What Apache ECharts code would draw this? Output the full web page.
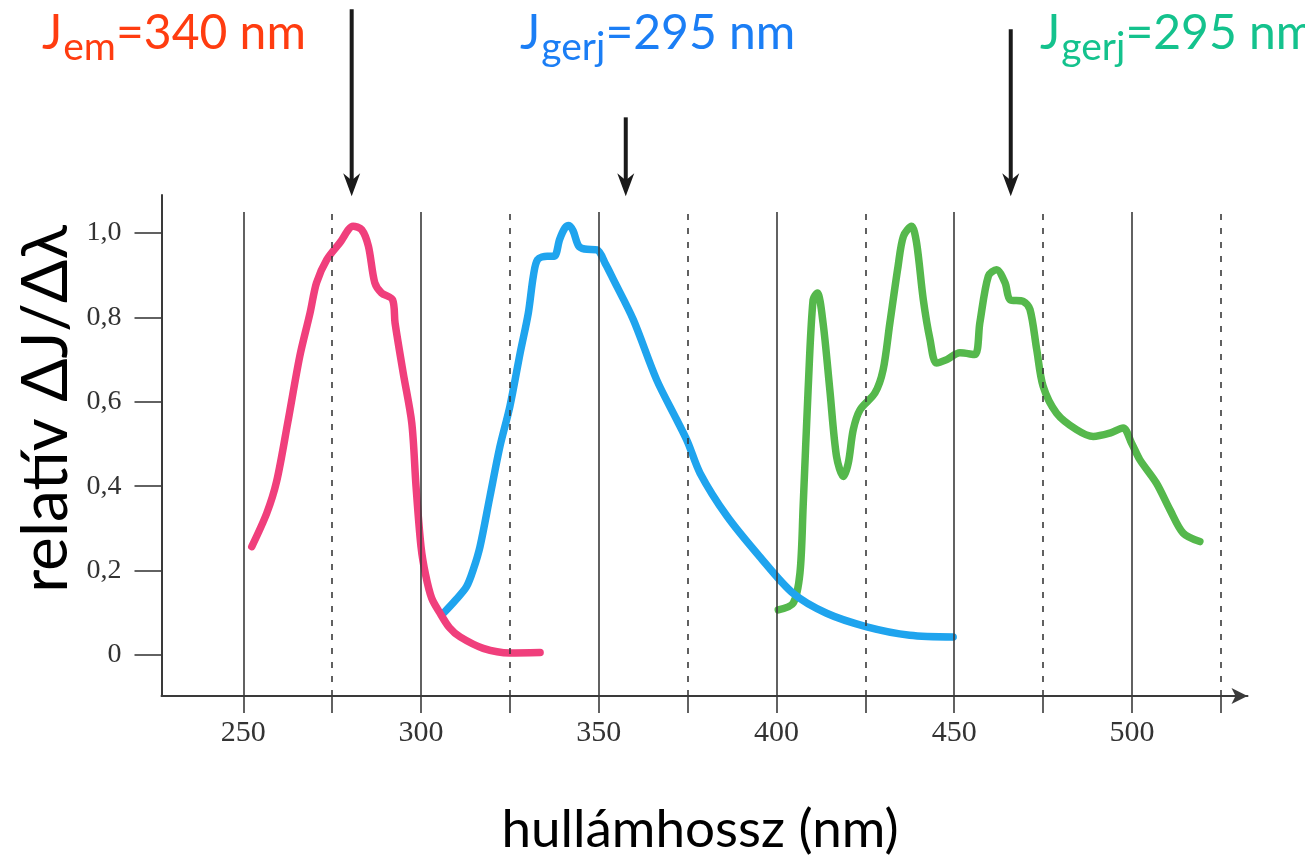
<!DOCTYPE html>
<html>
<head>
<meta charset="utf-8">
<script src="https://cdn.jsdelivr.net/npm/echarts@6/dist/echarts.min.js"></script>
<style>
html,body{margin:0;padding:0;background:#fff;}
#c{width:1305px;height:864px;}
</style>
</head>
<body>
<div id="c"></div>
<script>
// ---- data ----
const emissionNm  = [252.4,256.6,259.4,262.5,265.9,268.8,270.6,273.5,277.2,280.9,283.3,285.2,287.0,288.9,292.0,292.7,295.0,297.4,298.6,300.0,301.3,303.0,305.3,308.0,311.0,317.5,325.0,333.5];
const emissionVal = [0.257,0.336,0.412,0.550,0.708,0.811,0.882,0.937,0.977,1.016,1.008,0.969,0.882,0.858,0.842,0.787,0.668,0.550,0.400,0.257,0.190,0.135,0.100,0.065,0.043,0.016,0.005,0.006];

const blueNm  = [306.3,309.5,312.8,314.8,316.6,319.4,322.2,325.0,327.9,330.2,331.6,332.8,335.5,337.5,339.0,340.5,341.6,342.8,344.3,346.0,349.5,352.0,354.1,359.7,366.3,371.9,375.0,378.5,386.0,395.3,404.7,414.1,425.4,437.5,449.7];
const blueVal = [0.099,0.128,0.162,0.205,0.257,0.376,0.494,0.589,0.716,0.811,0.898,0.937,0.945,0.945,0.985,1.012,1.018,1.005,0.970,0.962,0.960,0.925,0.890,0.795,0.652,0.558,0.505,0.431,0.330,0.233,0.146,0.099,0.067,0.047,0.043];

const greenNm  = [400.5,404.7,406.6,407.5,408.9,410.3,411.5,413.1,415.0,416.9,418.8,420.2,421.6,423.5,427.7,430.0,431.9,434.2,435.7,438.0,439.4,441.3,443.2,445.0,447.9,451.6,455.8,457.2,459.6,461.9,464.3,465.7,469.4,471.3,473.2,475.0,478.8,484.4,489.1,493.8,497.5,499.9,502.2,506.9,510.7,514.4,519.1];
const greenVal = [0.107,0.123,0.194,0.352,0.629,0.842,0.858,0.787,0.629,0.470,0.423,0.455,0.534,0.581,0.621,0.676,0.787,0.921,0.992,1.016,0.977,0.842,0.747,0.692,0.700,0.716,0.712,0.787,0.898,0.913,0.882,0.842,0.838,0.819,0.724,0.637,0.573,0.534,0.518,0.526,0.538,0.502,0.463,0.407,0.344,0.289,0.269];

const xLabelTicks = [250,300,350,400,450,500];
const solidLinesX = [250,300,350,400,450,500];
const dashedLinesX = [275,325,375,425,475,525];
const yTicks = [0,0.2,0.4,0.6,0.8,1.0];

// annotation arrows (nm, top value, tip value)
const arrowNm  = [280.5,357.6,465.9];
const arrowTop = [1.530,1.274,1.483];
const arrowTip = 1.087;

const titles = [
  {x:42,  main1:'J', sub:'em',   main2:'=340 nm', color:'#FF3C10'},
  {x:520, main1:'J', sub:'gerj', main2:'=295 nm', color:'#1B7EF5'},
  {x:1040,main1:'J', sub:'gerj', main2:'=295 nm', color:'#14C28D'}
];
const yTitle = 'relatív ΔJ/Δλ';
const xTitle = 'hullámhossz (nm)';

// ---- chart ----
const X_MIN = 227, X_MAX = 532.5, Y_MIN = -0.097, Y_MAX = 1.09, LINE_TOP = 1.05;
const zip = (a,b) => a.map((v,i)=>[v,b[i]]);
const chart = echarts.init(document.getElementById('c'), null, {renderer:'canvas'});

const vLines = [];
solidLinesX.forEach(x => vLines.push([{coord:[x,Y_MIN], lineStyle:{type:'solid'}},{coord:[x,LINE_TOP]}]));
dashedLinesX.forEach(x => vLines.push([{coord:[x,Y_MIN], lineStyle:{type:[6,8]}},{coord:[x,LINE_TOP]}]));

const AX = '#3a3a3a';
const lineSeries = (name, data, color) => ({
  name, type:'line', data, showSymbol:false, symbol:'none',
  smooth:0.3, z:3,
  lineStyle:{color, width:7.5, cap:'round', join:'round'}
});

chart.setOption({
  animation:false,
  backgroundColor:'#fff',
  grid:{left:161.5, right:57.5, top:195, bottom:168, containLabel:false},
  xAxis:{
    type:'value', min:X_MIN, max:X_MAX,
    axisLine:{show:true, onZero:false, lineStyle:{color:AX, width:2}, symbol:['none','arrow'], symbolSize:[12,16]},
    axisTick:{show:true, length:17, inside:false, customValues:solidLinesX.concat(dashedLinesX), lineStyle:{color:AX, width:1.6}},
    axisLabel:{show:true, customValues:xLabelTicks, margin:22, fontFamily:'Liberation Serif', fontSize:30, color:'#333'},
    splitLine:{show:false}
  },
  yAxis:{
    type:'value', min:Y_MIN, max:Y_MAX,
    axisLine:{show:true, onZero:false, lineStyle:{color:AX, width:2}},
    axisTick:{show:true, length:27, inside:false, customValues:yTicks, lineStyle:{color:AX, width:1.6}},
    axisLabel:{show:true, customValues:yTicks, margin:40, fontFamily:'Liberation Serif', fontSize:28, color:'#333',
      formatter: v => v === 0 ? '0' : v.toFixed(1).replace('.', ',')},
    splitLine:{show:false}
  },
  series:[
    {type:'line', data:[], z:1, silent:true,
     markLine:{silent:true, symbol:['none','none'], label:{show:false}, animation:false,
       lineStyle:{color:AX, width:1.6}, emphasis:{disabled:true}, data:vLines}},
    lineSeries('gerj2', zip(greenNm, greenVal), '#55B84C'),
    lineSeries('gerj1', zip(blueNm, blueVal), '#1FA4EE'),
    lineSeries('em', zip(emissionNm, emissionVal), '#F03F7C')
  ]
});

// ---- annotations (text + arrows) ----
const mctx = document.createElement('canvas').getContext('2d');
const FONT = 'Lato, "Open Sans", "Noto Sans", sans-serif';
function tw(t, fs){ mctx.font = fs + 'px ' + FONT; return mctx.measureText(t).width; }
const MAIN_FS = 48, SUB_FS = 39, BASE = 52, SUB_BASE = 63;
const mid = (baseline, fs) => baseline - 0.39*fs;

const g = [];
titles.forEach(t => {
  let x = t.x;
  g.push({type:'text', x, y:mid(BASE,MAIN_FS), style:{text:t.main1, fill:t.color, fontSize:MAIN_FS, fontFamily:FONT, verticalAlign:'middle', align:'left'}});
  x += tw(t.main1, MAIN_FS) + 1;
  g.push({type:'text', x, y:mid(SUB_BASE,SUB_FS), style:{text:t.sub, fill:t.color, fontSize:SUB_FS, fontFamily:FONT, verticalAlign:'middle', align:'left'}});
  x += tw(t.sub, SUB_FS);
  g.push({type:'text', x, y:mid(BASE,MAIN_FS), style:{text:t.main2, fill:t.color, fontSize:MAIN_FS, fontFamily:FONT, verticalAlign:'middle', align:'left'}});
});

g.push({type:'text', x:46, y:409, rotation:Math.PI/2,
  style:{text:yTitle, fill:'#000', fontSize:64, fontFamily:FONT, align:'center', verticalAlign:'middle'}});
g.push({type:'text', x:700, y:830,
  style:{text:xTitle, fill:'#000', fontSize:53, fontFamily:FONT, align:'center', verticalAlign:'middle'}});

arrowNm.forEach((nm, i) => {
  const top = chart.convertToPixel({gridIndex:0}, [nm, arrowTop[i]]);
  const tip = chart.convertToPixel({gridIndex:0}, [nm, arrowTip]);
  const x = top[0];
  g.push({type:'line', shape:{x1:x, y1:top[1], x2:x, y2:tip[1]-14}, style:{stroke:'#1a1a1a', lineWidth:4}});
  g.push({type:'polygon', shape:{points:[[x, tip[1]], [x-8.5, tip[1]-23], [x, tip[1]-16], [x+8.5, tip[1]-23]]}, style:{fill:'#1a1a1a'}});
});

chart.setOption({graphic:{elements:g}});
</script>
</body>
</html>
